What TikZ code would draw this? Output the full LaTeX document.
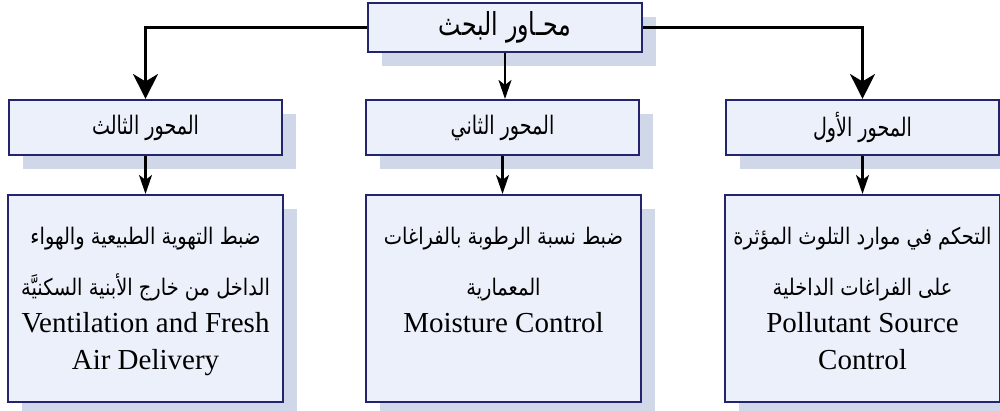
\documentclass[tikz,border=0pt]{standalone}
\usepackage{fontspec}
\setmainfont{Liberation Serif}
\newfontfamily\arabicfont[Script=Arabic, FakeStretch=0.85]{DejaVu Sans}
\newfontfamily\headfont[Script=Arabic, FakeStretch=0.75]{DejaVu Sans}
\TeXXeTstate=1
\usetikzlibrary{
  arrows.meta,
  positioning,
  shadows,
}
\definecolor{boxfill}{RGB}{236,240,250}
\definecolor{boxline}{RGB}{35,35,110}
\definecolor{shadowblue}{RGB}{208,215,232}

\begin{document}
\begin{tikzpicture}[
  x=0.02cm,
  y=-0.02cm,
  axis box/.style={
    draw = boxline,
    fill = boxfill,
    line width = 1.2pt,
    inner sep = 0pt,
    general shadow={fill=shadowblue, shadow xshift=0.28cm, shadow yshift=-0.28cm},
  },
  main axis/.style={
    axis box,
    minimum width = 5.48cm,
    minimum height = 0.98cm,
    font = \headfont\fontsize{18}{20}\selectfont,
  },
  sub axis/.style={
    axis box,
    minimum width = 5.46cm,
    minimum height = 1.1cm,
    font = \headfont\fontsize{14.5}{18}\selectfont,
  },
  topic box/.style={
    axis box,
    minimum width = 5.5cm,
    minimum height = 4.14cm,
  },
  topic text/.style={
    anchor = north,
    inner sep = 0pt,
    align = center,
    font = \fontsize{16.5}{21}\selectfont,
  },
  big arrow/.style={
    line width = 1.2pt,
    -{Stealth[length=0.5cm, width=0.5cm, inset=0.15cm]},
  },
  small arrow/.style={
    line width = 1.2pt,
    -{Stealth[length=0.38cm, width=0.26cm, inset=0.1cm]},
  },
  ]
  \useasboundingbox (0,0) rectangle (1000,411);

  % research axes
  \node [main axis, name=node-axes] at (505,27.5) {\beginR محـاور البحث\endR};

  \node [sub axis, name=node-third] at (145.5,127.5) {\beginR المحور الثالث\endR};
  \node [sub axis, name=node-second] at (502.5,127.5) {\beginR المحور الثاني\endR};
  \node [sub axis, name=node-first] at (862.5,127.5) {\beginR المحور الأول\endR};

  \node [topic box, name=node-ventilation] at (145.5,298.5) {};
  \node [topic box, name=node-moisture] at (503.5,298.5) {};
  \node [topic box, name=node-pollutant] at (862.5,298.5) {};

  \node [topic text, name=text-ventilation, below=0.66cm of node-ventilation.north] {%
    {\arabicfont\fontsize{13}{20}\selectfont\beginR ضبط التهوية الطبيعية والهواء\endR}\\[8pt]
    {\arabicfont\fontsize{13}{20}\selectfont\beginR الداخل من خارج الأبنية السكنيَّة\endR}\\
    Ventilation and Fresh\\
    Air Delivery};
  \node [topic text, name=text-moisture, below=0.66cm of node-moisture.north] {%
    {\arabicfont\fontsize{13}{20}\selectfont\beginR ضبط نسبة الرطوبة بالفراغات\endR}\\[8pt]
    {\arabicfont\fontsize{13}{20}\selectfont\beginR المعمارية\endR}\\
    Moisture Control};
  \node [topic text, name=text-pollutant, below=0.66cm of node-pollutant.north] {%
    {\arabicfont\fontsize{13}{20}\selectfont\beginR التحكم في موارد التلوث المؤثرة\endR}\\[8pt]
    {\arabicfont\fontsize{13}{20}\selectfont\beginR على الفراغات الداخلية\endR}\\
    Pollutant Source\\
    Control};

  % connectors
  \draw [big arrow] (node-axes.west) -| (node-third.north);
  \draw [big arrow] (node-axes.east) -| (node-first.north);
  \draw [small arrow] (node-axes.south) -- (node-axes.south |- node-second.north);
  \draw [small arrow] (node-third) -- (node-ventilation);
  \draw [small arrow] (node-second.south) -- (node-second.south |- node-moisture.north);
  \draw [small arrow] (node-first) -- (node-pollutant);
\end{tikzpicture}
\end{document}
